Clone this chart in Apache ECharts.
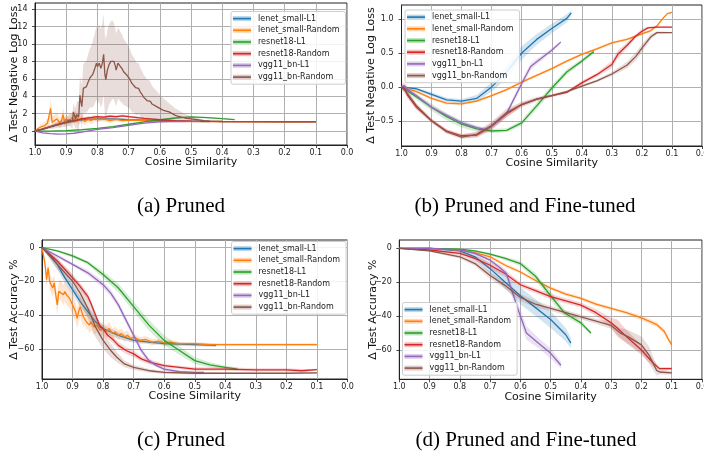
<!DOCTYPE html>
<html><head><meta charset="utf-8">
<script src="https://cdn.jsdelivr.net/npm/echarts@6/dist/echarts.min.js"></script>
<style>html,body{margin:0;padding:0;background:#fff}#c{width:704px;height:451px}</style>
</head><body><div id="c"></div>
<script>
// ---------------- DATA ----------------
const seriesNames = ['lenet_small-L1','lenet_small-Random','resnet18-L1','resnet18-Random','vgg11_bn-L1','vgg11_bn-Random'];
const xTickValues = [0,0.1,0.2,0.3,0.4,0.5,0.6,0.7,0.8,0.9,1.0];
const yTicksLoss = [0,2,4,6,8,10,12,14];
const yTicksLossFT = [-0.5,0,0.5,1.0];
const yTicksAcc = [-60,-40,-20,0];
const captions = ['(a) Pruned','(b) Pruned and Fine-tuned','(c) Pruned','(d) Pruned and Fine-tuned'];

// rows: [cosine similarity, mean value, half band width]
// (a) Pruned, delta test NLL
const a_lenetL1 = [[1,0,0.05],[0.975,0.2,0.1],[0.95,0.5,0.15],[0.925,0.8,0.2],[0.9,1.0,0.2],[0.875,1.15,0.2],[0.85,1.3,0.2],[0.825,1.35,0.2],[0.8,1.4,0.2],[0.75,1.4,0.15],[0.7,1.3,0.1],[0.65,1.25,0.1],[0.6,1.2,0.05],[0.55,1.15,0.05],[0.5,1.12,0.05],[0.44,1.1,0.05]];
const a_lenetRand = [[1,0,0.05],[0.99,0.3,0.2],[0.98,0.5,0.3],[0.97,0.6,0.4],[0.96,0.9,0.5],[0.955,1.0,0.7],[0.95,2.6,1.2],[0.945,1.0,0.8],[0.94,1.1,0.7],[0.93,1.4,0.7],[0.92,0.9,0.6],[0.915,1.2,0.6],[0.91,1.9,0.8],[0.905,1.0,0.6],[0.9,1.4,0.6],[0.89,1.1,0.5],[0.88,1.6,0.6],[0.875,1.0,0.5],[0.87,1.8,0.6],[0.86,1.2,0.5],[0.85,1.5,0.5],[0.84,1.1,0.4],[0.83,1.4,0.4],[0.82,1.2,0.4],[0.81,1.5,0.4],[0.8,1.3,0.3],[0.78,1.4,0.3],[0.76,1.2,0.3],[0.74,1.35,0.2],[0.72,1.2,0.2],[0.7,1.25,0.15],[0.65,1.2,0.1],[0.6,1.15,0.1],[0.5,1.1,0.05],[0.4,1.08,0.05],[0.3,1.07,0.05],[0.2,1.07,0.05],[0.1,1.07,0.05]];
const a_resnetL1 = [[1,0,0.02],[0.95,0.0,0.03],[0.9,0.05,0.05],[0.85,0.15,0.05],[0.8,0.3,0.05],[0.75,0.5,0.05],[0.7,0.78,0.05],[0.65,1.05,0.05],[0.6,1.3,0.05],[0.55,1.5,0.06],[0.5,1.62,0.06],[0.45,1.55,0.05],[0.4,1.42,0.05],[0.36,1.32,0.05]];
const a_resnetRand = [[1,0,0.05],[0.95,0.5,0.1],[0.9,1.0,0.15],[0.85,1.4,0.15],[0.8,1.65,0.15],[0.78,1.6,0.15],[0.76,1.72,0.15],[0.74,1.65,0.15],[0.72,1.75,0.15],[0.7,1.65,0.15],[0.65,1.45,0.1],[0.6,1.3,0.1],[0.55,1.2,0.05],[0.5,1.15,0.05],[0.4,1.1,0.05],[0.3,1.08,0.05],[0.2,1.08,0.05],[0.1,1.08,0.05]];
const a_vggL1 = [[1,0,0.02],[0.975,-0.2,0.03],[0.95,-0.3,0.03],[0.925,-0.35,0.03],[0.9,-0.33,0.03],[0.875,-0.25,0.03],[0.85,-0.12,0.03],[0.8,0.2,0.03],[0.75,0.4,0.03],[0.7,0.65,0.03],[0.65,0.9,0.03],[0.6,1.05,0.03],[0.55,1.1,0.03],[0.5,1.12,0.03],[0.47,1.12,0.03]];
const a_vggRand = [[1,0,0.05],[0.98,0.2,0.1],[0.96,0.4,0.2],[0.94,0.6,0.3],[0.92,0.8,0.4],[0.9,1.0,0.5],[0.89,1.3,0.7],[0.88,1.1,0.8],[0.877,2.2,1.0],[0.87,1.4,1.2],[0.866,1.9,1.5],[0.86,1.6,1.8],[0.856,4.1,2.2],[0.85,2.8,2.5],[0.845,4.9,2.8],[0.835,5.1,3.0],[0.83,5.6,3.2],[0.824,6.1,3.4],[0.82,6.2,3.5],[0.815,6.5,3.8],[0.81,7.0,4.0],[0.803,7.8,4.2],[0.8,7.4,4.3],[0.794,7.8,4.4],[0.789,7.2,4.5],[0.784,7.8,4.6],[0.78,8.8,4.6],[0.776,6.5,4.6],[0.773,5.9,4.6],[0.768,7.0,4.6],[0.763,7.6,4.6],[0.757,8.0,4.6],[0.752,8.2,4.5],[0.747,8.0,4.4],[0.742,7.4,4.3],[0.74,7.0,4.2],[0.734,7.8,4.1],[0.726,7.4,4.0],[0.72,7.1,3.9],[0.716,6.8,3.8],[0.71,6.6,3.7],[0.705,6.4,3.6],[0.7,6.2,3.5],[0.695,5.9,3.4],[0.69,5.5,3.3],[0.684,5.3,3.2],[0.678,5.0,3.1],[0.673,4.8,3.0],[0.668,4.9,2.9],[0.663,4.5,2.8],[0.657,4.2,2.7],[0.652,3.9,2.6],[0.646,3.7,2.5],[0.641,3.5,2.4],[0.635,3.6,2.3],[0.63,3.4,2.2],[0.625,3.1,2.1],[0.62,3.0,2.0],[0.61,2.8,1.8],[0.6,2.6,1.6],[0.59,2.4,1.4],[0.58,2.3,1.2],[0.57,2.2,1.0],[0.56,2.0,0.9],[0.55,1.8,0.8],[0.54,1.7,0.7],[0.53,1.6,0.6],[0.52,1.5,0.5],[0.5,1.4,0.3],[0.48,1.3,0.2],[0.46,1.2,0.1],[0.44,1.15,0.05],[0.4,1.1,0.05],[0.3,1.08,0.05],[0.2,1.07,0.05],[0.1,1.07,0.05]];

// (b) Pruned and fine-tuned, delta test NLL
const b_lenetL1 = [[1,0,0.01],[0.95,-0.03,0.02],[0.9,-0.11,0.03],[0.85,-0.19,0.03],[0.8,-0.21,0.03],[0.75,-0.17,0.05],[0.7,0.0,0.07],[0.65,0.22,0.09],[0.6,0.5,0.1],[0.55,0.7,0.08],[0.5,0.86,0.07],[0.45,1.01,0.06],[0.435,1.09,0.04]];
const b_lenetRand = [[1,0,0.02],[0.95,-0.07,0.02],[0.9,-0.17,0.02],[0.85,-0.24,0.02],[0.8,-0.25,0.02],[0.75,-0.21,0.02],[0.7,-0.13,0.02],[0.65,-0.04,0.02],[0.6,0.07,0.02],[0.55,0.17,0.02],[0.5,0.27,0.02],[0.45,0.38,0.02],[0.4,0.48,0.02],[0.35,0.56,0.02],[0.3,0.65,0.02],[0.25,0.7,0.02],[0.2,0.78,0.02],[0.17,0.83,0.02],[0.15,0.9,0.02],[0.13,1.01,0.02],[0.115,1.08,0.01],[0.1,1.1,0.01]];
const b_resnetL1 = [[1,0,0.02],[0.95,-0.15,0.04],[0.9,-0.3,0.05],[0.85,-0.44,0.05],[0.8,-0.55,0.05],[0.75,-0.62,0.04],[0.7,-0.65,0.03],[0.65,-0.64,0.03],[0.6,-0.53,0.04],[0.55,-0.28,0.05],[0.5,-0.02,0.05],[0.45,0.22,0.04],[0.4,0.38,0.03],[0.36,0.52,0.03]];
const b_resnetRand = [[1,0,0.03],[0.99,-0.02,0.05],[0.98,-0.12,0.05],[0.95,-0.3,0.04],[0.9,-0.5,0.03],[0.85,-0.65,0.03],[0.8,-0.72,0.03],[0.75,-0.71,0.04],[0.7,-0.58,0.05],[0.65,-0.4,0.05],[0.6,-0.26,0.03],[0.55,-0.18,0.02],[0.5,-0.13,0.02],[0.45,-0.08,0.02],[0.4,0.06,0.03],[0.35,0.18,0.03],[0.3,0.33,0.05],[0.28,0.48,0.06],[0.25,0.61,0.04],[0.22,0.75,0.03],[0.2,0.82,0.03],[0.18,0.87,0.02],[0.15,0.88,0.01],[0.1,0.88,0.01]];
const b_vggL1 = [[1,0.0,0.06],[0.99,0.02,0.05],[0.98,-0.04,0.04],[0.95,-0.13,0.03],[0.9,-0.3,0.03],[0.85,-0.42,0.03],[0.8,-0.53,0.03],[0.75,-0.6,0.03],[0.72,-0.63,0.03],[0.7,-0.58,0.03],[0.65,-0.39,0.04],[0.6,0.05,0.05],[0.57,0.3,0.05],[0.55,0.37,0.04],[0.5,0.54,0.03],[0.47,0.66,0.02]];
const b_vggRand = [[1,0,0.05],[0.98,-0.1,0.05],[0.95,-0.28,0.04],[0.9,-0.5,0.03],[0.85,-0.66,0.03],[0.8,-0.74,0.03],[0.75,-0.7,0.04],[0.7,-0.57,0.06],[0.65,-0.38,0.06],[0.6,-0.26,0.04],[0.55,-0.18,0.03],[0.5,-0.13,0.02],[0.45,-0.07,0.02],[0.4,0.01,0.02],[0.35,0.09,0.02],[0.3,0.19,0.03],[0.25,0.32,0.05],[0.22,0.45,0.06],[0.2,0.57,0.06],[0.17,0.74,0.04],[0.15,0.8,0.02],[0.1,0.8,0.01]];

// (c) Pruned, delta test accuracy %
const c_lenetL1 = [[1,0,0.5],[0.975,-4,2],[0.95,-10,3],[0.925,-18,3],[0.9,-25,3],[0.875,-32,3],[0.85,-38,3],[0.825,-44,3],[0.8,-48,2],[0.775,-50,2],[0.75,-52,2],[0.7,-55,1.5],[0.65,-56,1],[0.6,-57,1],[0.5,-57.5,1],[0.43,-58,1]];
const c_lenetRand = [[1,0,0.5],[0.995,-5,2],[0.99,-10,3],[0.985,-19,4],[0.98,-12,4],[0.975,-20,5],[0.97,-22,5],[0.965,-24,5],[0.96,-21,5],[0.955,-28,5],[0.95,-34,6],[0.945,-26,6],[0.94,-25,6],[0.93,-28,6],[0.925,-26,6],[0.92,-28,6],[0.91,-30,6],[0.9,-34,6],[0.895,-36,6],[0.89,-38,6],[0.885,-42,6],[0.88,-38,6],[0.875,-35,6],[0.87,-38,6],[0.865,-41,6],[0.86,-40,5],[0.855,-44,5],[0.85,-43,5],[0.845,-46,5],[0.84,-44,5],[0.835,-45,5],[0.83,-47,5],[0.82,-46,4],[0.81,-49,4],[0.8,-48,4],[0.79,-50,4],[0.78,-48,4],[0.77,-51,3],[0.76,-50,3],[0.75,-52,3],[0.74,-51,3],[0.73,-53,3],[0.72,-52,3],[0.71,-54,2],[0.7,-53,2],[0.68,-55,2],[0.66,-54.5,2],[0.64,-56,2],[0.62,-55.5,1.5],[0.6,-56.5,1.5],[0.58,-56,1.5],[0.55,-57,1],[0.5,-57,1],[0.45,-57.5,1],[0.4,-57.5,0.8],[0.3,-57.5,0.8],[0.2,-57.5,0.8],[0.1,-57.5,0.8]];
const c_resnetL1 = [[1,0,0.3],[0.95,-2,0.5],[0.9,-5,1],[0.85,-9,1],[0.8,-16,2],[0.75,-24,2.5],[0.7,-35,3],[0.65,-46,3],[0.6,-55,3],[0.55,-61,2.5],[0.5,-67,2],[0.45,-69.5,1.5],[0.4,-71,1],[0.36,-72,1]];
const c_resnetRand = [[1,0,0.5],[0.95,-8,2],[0.9,-18,2],[0.875,-23,2],[0.85,-29,2],[0.84,-33,2],[0.825,-40,2],[0.81,-47,2],[0.8,-48,2],[0.785,-52,2],[0.765,-55,2],[0.75,-58,2],[0.725,-61,2],[0.7,-63,2],[0.675,-66,1.5],[0.645,-68,1.5],[0.6,-70,1],[0.55,-71,1],[0.5,-72,1],[0.4,-72,1],[0.3,-72.5,1],[0.2,-72.5,1],[0.15,-73,1],[0.1,-72.3,0.5]];
const c_vggL1 = [[1,0,0.3],[0.95,-5,1],[0.9,-10,1],[0.85,-15,1.5],[0.8,-22,2],[0.775,-27,2],[0.75,-34,2],[0.725,-43,2],[0.7,-52,2],[0.675,-61,2],[0.65,-67,1.5],[0.625,-70,1],[0.6,-72,1],[0.55,-73.5,0.8],[0.5,-74,0.5],[0.47,-74,0.5]];
const c_vggRand = [[1,0,0.5],[0.95,-10,3],[0.9,-20,4],[0.875,-27,5],[0.85,-36,6],[0.825,-47,6],[0.8,-55,5],[0.775,-61,4],[0.755,-65,3],[0.73,-69,2],[0.7,-71,1.5],[0.65,-73,1],[0.6,-74,1],[0.5,-74.5,0.8],[0.4,-74.5,0.5],[0.3,-74.5,0.5],[0.2,-74.5,0.5],[0.1,-74.3,0.5]];

// (d) Pruned and fine-tuned, delta test accuracy %
const d_lenetL1 = [[1,0,0.3],[0.9,0,0.3],[0.8,-1.5,1],[0.75,-5,2],[0.7,-12,3],[0.65,-20,4],[0.6,-28,5],[0.55,-35,5],[0.5,-42,5],[0.45,-51,4],[0.433,-56,3]];
const d_lenetRand = [[1,0,0.3],[0.9,0,0.3],[0.8,-1,0.5],[0.75,-2.5,0.8],[0.7,-5,1],[0.65,-10,1],[0.6,-14,1],[0.55,-19,1],[0.5,-23.5,1],[0.45,-27,1],[0.4,-29.5,1],[0.35,-33,1],[0.3,-35.5,1],[0.25,-38,1],[0.2,-41,1.5],[0.175,-43,1.5],[0.15,-45,1.5],[0.125,-49,1.5],[0.11,-54,1.5],[0.1,-57,1.5]];
const d_resnetL1 = [[1,0,0.2],[0.9,0,0.2],[0.8,-0.5,0.3],[0.75,-1.5,0.5],[0.7,-3.5,0.8],[0.65,-6,1],[0.6,-9,1.5],[0.55,-16.5,2],[0.5,-28,2.5],[0.455,-38,2],[0.4,-44,1.5],[0.367,-50,1]];
const d_resnetRand = [[1,0,0.3],[0.9,-1,0.5],[0.8,-3,1],[0.75,-6,1.5],[0.7,-10,2],[0.65,-15,2],[0.6,-21.5,1.5],[0.55,-25,1.5],[0.5,-28.5,1.5],[0.45,-31,1.5],[0.4,-33.5,1.5],[0.35,-38,2],[0.3,-44,3],[0.28,-47,5],[0.25,-52,4],[0.2,-60,3],[0.16,-68,2],[0.14,-71,1],[0.1,-71,1]];
const d_vggL1 = [[1,0,0.2],[0.9,0,0.3],[0.8,-1,0.5],[0.75,-3,0.8],[0.7,-7,1],[0.67,-11,1.5],[0.646,-15,2],[0.63,-24,3],[0.6,-40,4],[0.58,-50,4],[0.54,-56,3],[0.5,-62,3],[0.466,-69,2]];
const d_vggRand = [[1,0,0.3],[0.9,-1.5,0.5],[0.8,-5,1],[0.75,-9,1.5],[0.7,-16,2],[0.65,-22,2],[0.6,-29,2],[0.55,-33,2],[0.5,-35.5,1.5],[0.45,-38,1.5],[0.4,-40.5,1.5],[0.35,-43,1.5],[0.3,-45.5,2],[0.27,-50,3],[0.246,-52,4],[0.2,-57,5],[0.175,-63,5],[0.15,-72,3],[0.14,-73,1.5],[0.1,-73.5,1]];

// ---------------- STYLE / LAYOUT ----------------
const COLORS = ['#1f77b4','#ff7f0e','#2ca02c','#d62728','#9467bd','#8c564b'];
function rgba(hex, a){const n=parseInt(hex.slice(1),16);return 'rgba('+(n>>16)+','+((n>>8)&255)+','+(n&255)+','+a+')';}
const FONT = 'DejaVu Sans';
const BAND = ' band';
const panels = [
  {rows:[a_lenetL1,a_lenetRand,a_resnetL1,a_resnetRand,a_vggL1,a_vggRand], grid:{left:35,top:3,width:312,height:142}, ymin:-1.6, ymax:14.7, ticks:yTicksLoss, dec:0, yname:'Δ Test Negative Log Loss', ygap:15, ylm:7.5, legend:{left:231,top:11.5}, cap:{x:181,y:206}},
  {rows:[b_lenetL1,b_lenetRand,b_resnetL1,b_resnetRand,b_vggL1,b_vggRand], grid:{left:401.5,top:5,width:300.5,height:141}, ymin:-0.871, ymax:1.207, ticks:yTicksLossFT, dec:1, yname:'Δ Test Negative Log Loss', ygap:25, ylm:8, legend:{left:405,top:10}, cap:{x:525,y:206}},
  {rows:[c_lenetL1,c_lenetRand,c_resnetL1,c_resnetRand,c_vggL1,c_vggRand], grid:{left:42,top:240,width:305.5,height:139}, ymin:-77.9, ymax:4.45, ticks:yTicksAcc, dec:0, yname:'Δ Test Accuracy %', ygap:22, ylm:7.5, legend:{left:231.5,top:241.5}, cap:{x:181,y:440}},
  {rows:[d_lenetL1,d_lenetRand,d_resnetL1,d_resnetRand,d_vggL1,d_vggRand], grid:{left:399.3,top:240,width:302.7,height:139.3}, ymin:-77.3, ymax:4.9, ticks:yTicksAcc, dec:0, yname:'Δ Test Accuracy %', ygap:21, ylm:7.5, legend:{left:402.5,top:302.5}, cap:{x:526,y:440}}
];

function fmt(v, dec){const s=Math.abs(v).toFixed(dec);return v<0?'\u2212'+s:s;}

const grids=[], xAxes=[], yAxes=[], series=[], legends=[], graphics=[];
const axisCommon = {
  axisLine:{show:true,onZero:false,lineStyle:{color:'#222',width:1}},
  axisTick:{show:true,inside:false,length:3,lineStyle:{color:'#222',width:0.8}},
  splitLine:{show:true,lineStyle:{color:'#b0b0b0',width:1}}
};
panels.forEach((p, pi) => {
  grids.push(Object.assign({show:true,borderColor:'#222',borderWidth:1,containLabel:false,outerBoundsMode:'none'}, p.grid));
  xAxes.push(Object.assign({}, axisCommon, {
    gridIndex:pi, type:'value', min:0, max:1, interval:0.1, inverse:true,
    axisLabel:{interval:0,hideOverlap:false,showMinLabel:true,showMaxLabel:true,margin:3.5,fontFamily:FONT,fontSize:8,color:'#222',formatter:v=>v.toFixed(1)},
    name:'Cosine Similarity', nameLocation:'middle', nameGap:12, nameMoveOverlap:false,
    nameTextStyle:{fontFamily:FONT,fontSize:11,color:'#111',verticalAlign:'top'}
  }));
  yAxes.push(Object.assign({}, axisCommon, {
    gridIndex:pi, type:'value', min:p.ymin, max:p.ymax,
    axisTick:Object.assign({}, axisCommon.axisTick, {customValues:p.ticks}),
    axisLabel:{customValues:p.ticks, margin:p.ylm, fontFamily:FONT,fontSize:8,color:'#222',formatter:v=>fmt(v,p.dec)},
    name:p.yname, nameLocation:'middle', nameGap:p.ygap, nameRotate:90, nameMoveOverlap:false,
    nameTextStyle:{fontFamily:FONT,fontSize:11,color:'#111'}
  }));
  p.rows.forEach((rows, i) => {
    const band = rows.map(r => [r[0], r[1]-r[2], r[1]+r[2]]);
    const fill = rgba(COLORS[i], 0.2);
    series.push({
      type:'custom', name:seriesNames[i]+BAND, xAxisIndex:pi, yAxisIndex:pi, z:3+2*i, clip:true, silent:true,
      itemStyle:{color:fill}, data:band, encode:{x:0,y:[1,2]},
      renderItem:function(params, api){
        if (params.dataIndex !== 0) return null;
        const pts=[];
        for (let k=0;k<band.length;k++) pts.push(api.coord([band[k][0], band[k][1]]));
        for (let k=band.length-1;k>=0;k--) pts.push(api.coord([band[k][0], band[k][2]]));
        return {type:'polygon', shape:{points:pts}, style:{fill:fill}};
      }
    });
    series.push({
      type:'line', name:seriesNames[i], xAxisIndex:pi, yAxisIndex:pi, z:4+2*i,
      showSymbol:false, symbol:'none', clip:true, silent:true,
      data:rows.map(r=>[r[0], r[1]]),
      lineStyle:{color:COLORS[i], width:1.3}, itemStyle:{color:COLORS[i]}
    });
  });
  const legBase = {
    orient:'vertical', left:p.legend.left, top:p.legend.top, itemWidth:18, itemGap:2.7,
    padding:[2.6,6,2.6,2], selectedMode:false, icon:'rect',
    textStyle:{fontFamily:FONT,fontSize:8,lineHeight:9,padding:[0,0,0,2]}
  };
  legends.push(Object.assign({}, legBase, {
    z:40, itemHeight:5, backgroundColor:'rgba(255,255,255,0.85)', borderColor:'#cccccc', borderWidth:1, borderRadius:2,
    data:seriesNames.map((n,i)=>({name:n+BAND, itemStyle:{color:rgba(COLORS[i],0.3)}})),
    formatter:n=>n.replace(BAND,''),
    textStyle:Object.assign({}, legBase.textStyle, {color:'rgba(0,0,0,0)'})
  }));
  legends.push(Object.assign({}, legBase, {
    z:41, itemHeight:1.6,
    data:seriesNames.map((n,i)=>({name:n, itemStyle:{color:COLORS[i]}})),
    textStyle:Object.assign({}, legBase.textStyle, {color:'#222'})
  }));
  graphics.push({type:'text', x:p.cap.x, y:p.cap.y, style:{text:captions[pi], font:'21px "Liberation Serif"', fill:'#000', textAlign:'center', textVerticalAlign:'middle'}});
});

const chart = echarts.init(document.getElementById('c'), null, {renderer:'canvas'});
chart.setOption({
  animation:false, backgroundColor:'#fff',
  grid:grids, xAxis:xAxes, yAxis:yAxes, series:series, legend:legends, graphic:graphics
});
</script></body></html>
